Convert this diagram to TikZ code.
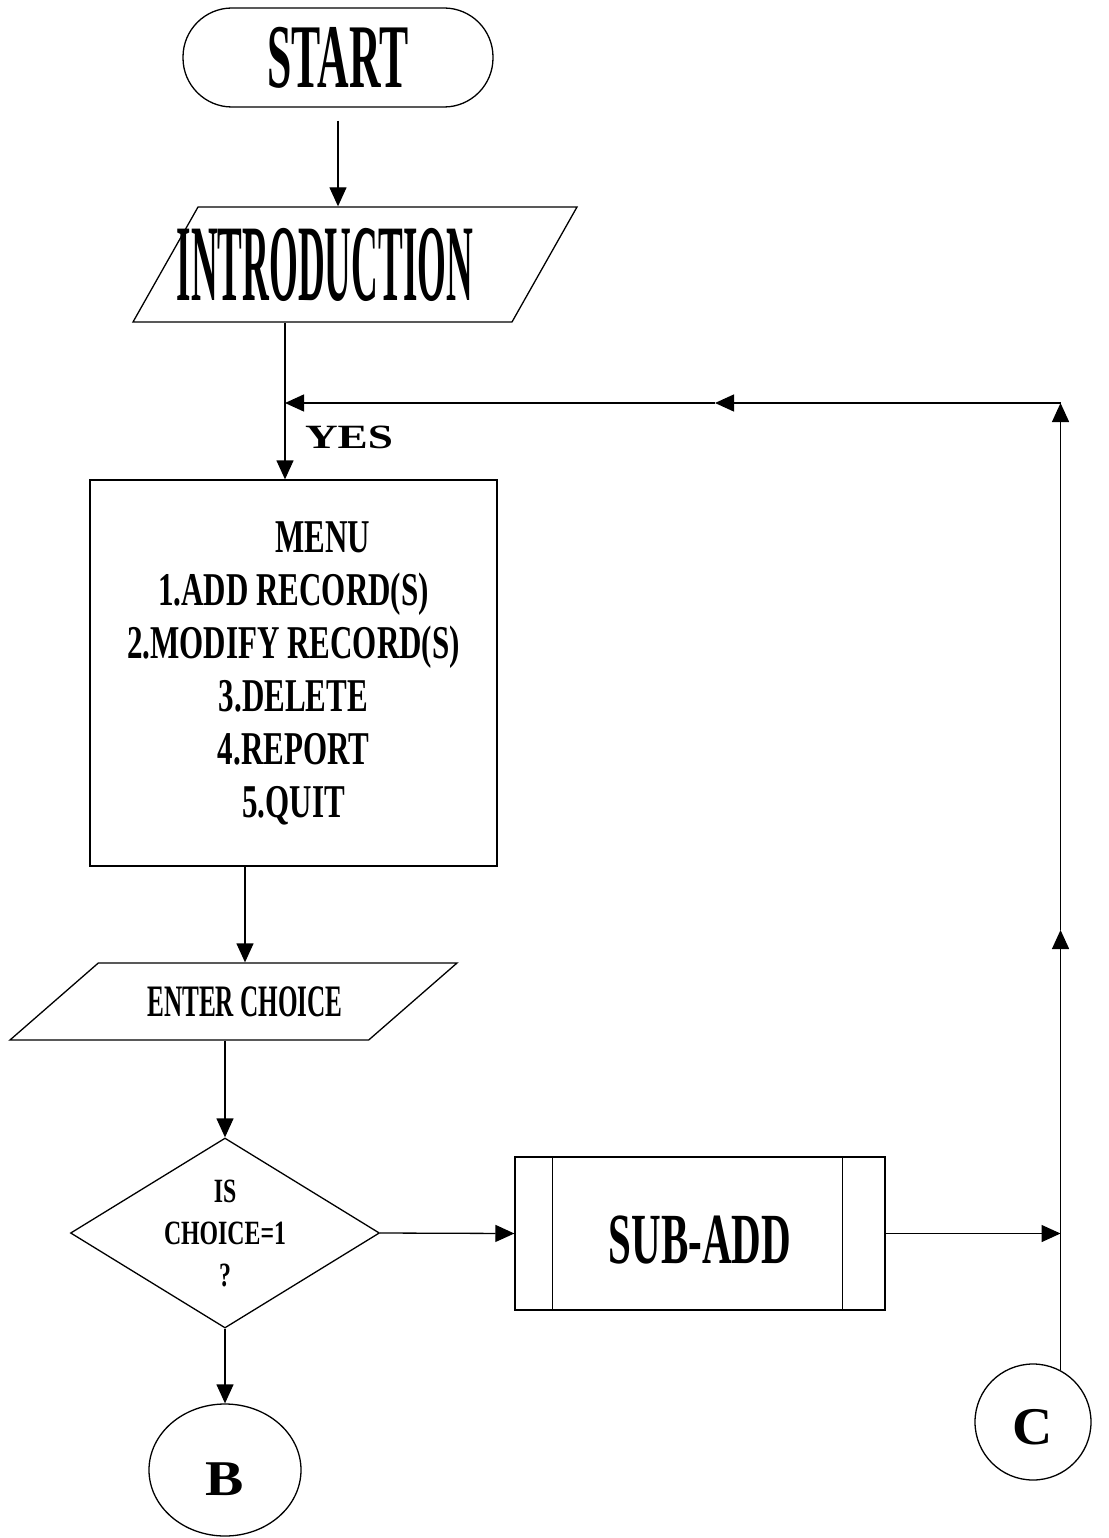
\documentclass[tikz,border=0pt]{standalone}
\usepackage{fontspec}
\setmainfont{Liberation Serif}
\usepackage{graphicx}
\usetikzlibrary{arrows.meta,calc,shapes.geometric}
\newcommand{\sq}[2]{\scalebox{#1}[1]{#2}}
\newcommand{\lowered}[2]{\raisebox{-#1}[\height][0pt]{#2}}
\tikzset{
	flow/.style={line width=1.3pt, -{Triangle[width=17pt,length=19pt]}},
	box/.style={draw, line width=1.3pt, inner sep=0pt},
	slantbox/.style={box, trapezium, trapezium stretches body}
}

\begin{document}
\begin{tikzpicture}[x=1pt,y=-1pt]
			%%%%% START %%%%%
			\useasboundingbox (0,0) rectangle (1108,1538);
			
			\node[box, rounded corners=49pt, minimum width=310pt, minimum height=99pt, font=\fontsize{91}{100}\selectfont\bfseries] (start) at (338,57.5) {\sq{0.48}{START}};
			
			\node[slantbox, trapezium left angle=48.4, trapezium right angle=131.6, minimum width=444pt, minimum height=115pt, font=\fontsize{109}{120}\selectfont\bfseries] (intro) at (355,264.5) {\makebox[0pt]{\sq{0.34}{INTRODUCTION}\hspace*{60pt}}};
			
			\node[font=\fontsize{34}{40}\selectfont\bfseries] (yes) at (349,437) {\sq{1.33}{YES}};
			
			\node[box, minimum width=407pt, minimum height=386pt, align=center, font=\fontsize{47}{53}\selectfont\bfseries] (menu) at (293.5,673) {\hspace*{58pt}\sq{0.66}{MENU}\\ \sq{0.66}{1.ADD RECORD(S)}\\ \sq{0.66}{2.MODIFY RECORD(S)}\\ \sq{0.66}{3.DELETE}\\ \sq{0.66}{4.REPORT}\\ \sq{0.66}{5.QUIT}};
			
			\node[slantbox, trapezium left angle=18.9, trapezium right angle=161.1, minimum width=447pt, minimum height=77pt, font=\fontsize{45}{50}\selectfont\bfseries] (enter) at (233.5,1001.5) {\makebox[0pt]{\hspace*{23pt}\sq{0.56}{ENTER CHOICE}}};
			
			\node[box, diamond, aspect=1.63, minimum width=309pt, minimum height=190pt, align=center, font=\fontsize{34}{42}\selectfont\bfseries] (choice) at (225,1233) {\makebox[0pt]{\sq{0.7}{IS}}\\ \makebox[0pt]{\sq{0.7}{CHOICE=1}}\\ \makebox[0pt]{\sq{0.7}{?}}};
			
			\node[box, minimum width=370pt, minimum height=153pt, font=\fontsize{72}{80}\selectfont\bfseries] (sub) at (700,1233.5) {\lowered{6pt}{\sq{0.57}{SUB-ADD}}};
			\draw[line width=1.3pt] ([xshift=38pt]sub.north west) -- ([xshift=38pt]sub.south west);
			\draw[line width=1.3pt] ([xshift=-43pt]sub.north east) -- ([xshift=-43pt]sub.south east);
			
			\node[box, ellipse, minimum width=152pt, minimum height=132pt, font=\fontsize{50}{55}\selectfont\bfseries] (b) at (225,1470) {\lowered{9pt}{\sq{1.15}{B}}};
			\node[box, circle, minimum size=116pt, font=\fontsize{53}{58}\selectfont\bfseries] (c) at (1033,1422) {\lowered{5pt}{\sq{1.05}{C}}};
			
			\coordinate (join) at (285,403);
			\coordinate (corner) at (c.62 |- join);
			\coordinate (upmid) at ($(corner)+(0,527)$);
			\coordinate (leftmid) at (715,403);
			\coordinate (subend) at (c.62 |- sub.east);
			
			\draw[flow] ([yshift=-13pt]start.south) -- (start.south |- intro.north);
			\draw[flow] (join |- intro.south) -- (join |- menu.north);
			\draw[flow] ([xshift=-48.5pt]menu.south) -- ([xshift=-48.5pt]menu.south |- enter.north);
			\draw[flow] (enter.south -| choice.north) -- (choice.north);
			\draw[flow] (choice.east) -- (sub.west);
			\draw[flow] (sub.east) -- (subend);
			\draw[flow] (choice.south) -- (b.north);
			
			\draw[flow] (c.62) -- (upmid);
			\draw[flow] (upmid) -- (corner);
			\draw[flow] (corner) -- (leftmid);
			\draw[flow] (leftmid) -- (join);
			
			%%%%% END %%%%%
		\end{tikzpicture}
\end{document}
